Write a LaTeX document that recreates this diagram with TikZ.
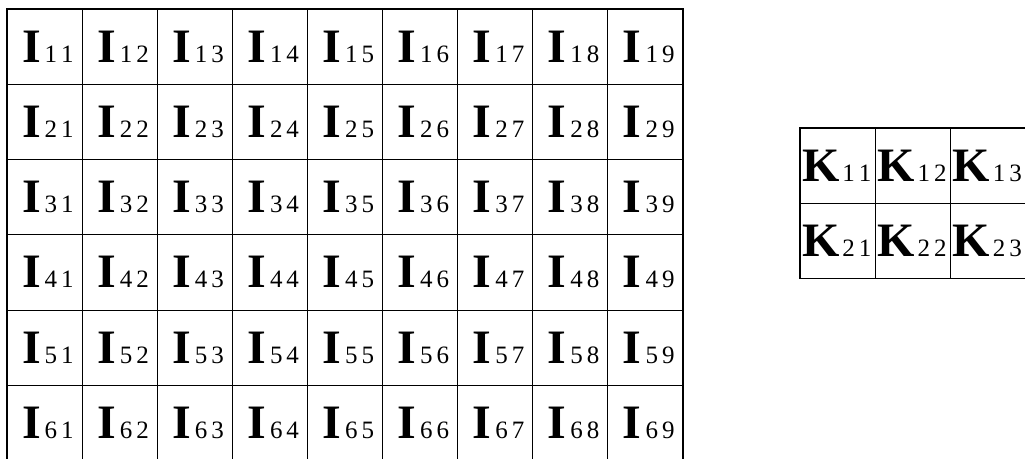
\documentclass[tikz,border=0pt]{standalone}
\usepackage{fontspec}
\setmainfont{Liberation Serif}
\usetikzlibrary{calc}
\newcommand\bigLet[1]{{\fontsize{48}{48}\selectfont\bfseries #1}}
\newcommand\subDig[2]{{\fontsize{25}{25}\selectfont #1\kern4pt#2}}
\begin{document}
\begin{tikzpicture}[x=1pt,y=-1pt,
  cell/.style={draw, line width=1.1pt, minimum width=75.11pt, minimum height=75.3pt, inner sep=0pt, outer sep=0pt, anchor=north west},
  kcell/.style={draw, line width=1.1pt, minimum width=75.3pt, minimum height=75.3pt, inner sep=0pt, outer sep=0pt, anchor=north west},
  lab/.style={anchor=base west, inner sep=0pt, outer sep=0pt}]
\useasboundingbox (0,0) rectangle (1025,458);
\clip (0,0) rectangle (1025,458);
\foreach \row in {1,...,6}{
  \foreach \col in {1,...,9}{
    \node[cell] (I\row\col) at ({7+(\col-1)*75.11},{9+(\row-1)*75.3}) {};
    \node[lab] (tI\row\col) at ($(I\row\col.north west)+(15,53)$) {\bigLet{I}\kern4pt\subDig{\row}{\col}};
  }
}
\foreach \row in {1,2}{
  \foreach \col in {1,2,3}{
    \node[kcell] (K\row\col) at ({800+(\col-1)*75.3},{128+(\row-1)*75.3}) {};
    \node[lab] (tK\row\col) at ($(K\row\col.north west)+(2,53)$) {\bigLet{K}\kern3pt\subDig{\row}{\col}};
  }
}
\end{tikzpicture}
\end{document}
